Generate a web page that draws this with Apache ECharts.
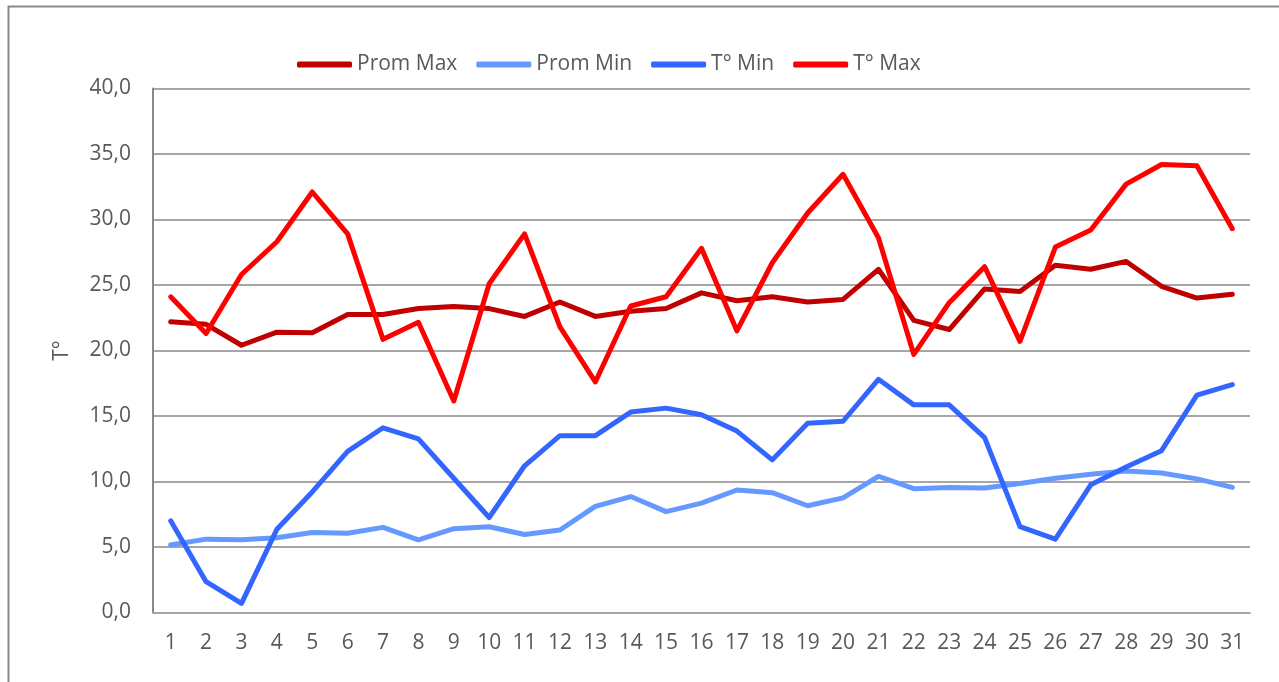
<!DOCTYPE html>
<html>
<head>
<meta charset="utf-8">
<style>
html,body{margin:0;padding:0;background:#fff;}
#chart{width:1279px;height:682px;}
</style>
<script src="https://cdn.jsdelivr.net/npm/echarts@6/dist/echarts.min.js"></script>
</head>
<body>
<div id="chart"></div>
<script>
const days = ['1','2','3','4','5','6','7','8','9','10','11','12','13','14','15','16','17','18','19','20','21','22','23','24','25','26','27','28','29','30','31'];
const promMax = [22.2,22.0,20.4,21.4,21.35,22.75,22.75,23.2,23.35,23.2,22.6,23.7,22.6,23.0,23.2,24.4,23.8,24.1,23.7,23.9,26.2,22.3,21.6,24.7,24.5,26.5,26.2,26.8,24.9,24.0,24.3];
const promMin = [5.15,5.6,5.55,5.7,6.1,6.05,6.5,5.55,6.4,6.55,5.95,6.3,8.1,8.85,7.7,8.35,9.35,9.15,8.15,8.75,10.4,9.45,9.55,9.5,9.85,10.25,10.55,10.8,10.65,10.2,9.55];
const tMin = [7.0,2.35,0.7,6.35,9.2,12.3,14.1,13.25,10.25,7.25,11.2,13.5,13.5,15.3,15.6,15.1,13.85,11.65,14.45,14.6,17.8,15.85,15.85,13.35,6.55,5.6,9.75,11.1,12.35,16.6,17.4];
const tMax = [24.1,21.3,25.8,28.3,32.1,28.9,20.85,22.15,16.15,25.1,28.9,21.8,17.6,23.4,24.1,27.8,21.5,26.7,30.5,33.45,28.6,19.7,23.65,26.4,20.7,27.9,29.2,32.7,34.2,34.1,29.3];
const seriesNames = ['Prom Max','Prom Min','T° Min','T° Max'];
const seriesColors = ['#C00000','#6699FF','#3366FF','#FF0000'];
const seriesData = [promMax, promMin, tMin, tMax];

const chart = echarts.init(document.getElementById('chart'));
const font = 'Open Sans';
chart.setOption({
  animation: false,
  backgroundColor: '#fff',
  graphic: [{
    type: 'rect', left: 6, top: 4, silent: true,
    shape: {width: 1300, height: 700},
    style: {fill: 'none', stroke: '#898989', lineWidth: 2}
  }],
  legend: {
    top: 49, left: 292,
    itemWidth: 55, itemHeight: 6, itemGap: 19,
    icon: 'roundRect',
    textStyle: {color: '#595959', fontSize: 21, fontFamily: font},
    data: seriesNames
  },
  grid: {left: 153, right: 29, top: 88.5, bottom: 69.5, containLabel: false},
  xAxis: {
    type: 'category', data: days, boundaryGap: true,
    axisLine: {show: true, lineStyle: {color: '#A6A6A6', width: 2}},
    axisTick: {show: false},
    axisLabel: {color: '#595959', fontSize: 21, fontFamily: font, margin: 20, interval: 0}
  },
  yAxis: {
    type: 'value', min: 0, max: 40, interval: 5,
    name: 'T°', nameLocation: 'middle', nameGap: 80, nameRotate: 90,
    nameTextStyle: {color: '#595959', fontSize: 21, fontFamily: font},
    axisLine: {show: true, lineStyle: {color: '#898989', width: 2}},
    axisTick: {show: false},
    splitLine: {lineStyle: {color: '#A6A6A6', width: 2}},
    axisLabel: {color: '#595959', fontSize: 21, fontFamily: font, margin: 22,
      formatter: v => v.toFixed(1).replace('.', ',')}
  },
  series: seriesNames.map((n, i) => ({
    name: n, type: 'line', data: seriesData[i],
    showSymbol: false, symbol: 'none',
    itemStyle: {color: seriesColors[i]},
    lineStyle: {color: seriesColors[i], width: 5, cap: 'round', join: 'round'}
  }))
});
</script>
</body>
</html>
